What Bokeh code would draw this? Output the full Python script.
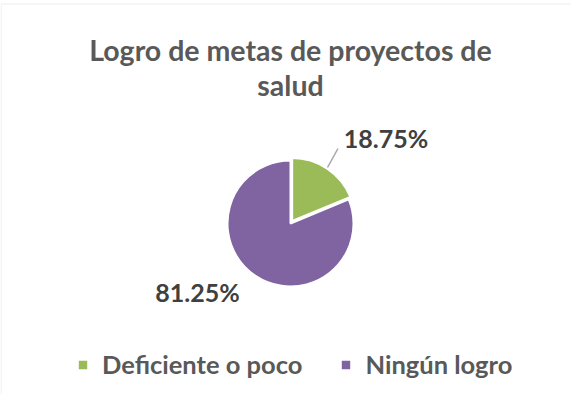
import math
from bokeh.plotting import figure
from bokeh.models import ColumnDataSource, Label, BoxAnnotation, Legend, LegendItem, Range1d
from bokeh.embed import file_html
from bokeh.resources import INLINE

# ---- data ----
categories = ["Deficiente o poco", "Ningún logro"]
values = [18.75, 81.25]
colors = ["#9BBB59", "#8064A2"]
title_lines = ["Logro de metas de proyectos de", "salud"]

# ---- layout (canvas pixels; data units == pixels) ----
W, H = 571, 394
FONT = "Lato"
TXT = "#595959"

def sx(x):  # page x -> data x
    return x - 8

def sy(y):  # page y -> data y
    return (H + 8) - y

p = figure(width=W, height=H, output_backend="svg", toolbar_location=None,
           x_range=Range1d(0, W), y_range=Range1d(0, H), min_border=0,
           x_axis_location=None, y_axis_location=None, outline_line_color=None)
p.grid.visible = False

# chart border
p.add_layout(BoxAnnotation(left=0.75, right=W + 20, bottom=-20, top=sy(11.5),
                           fill_alpha=0, line_color="#d9d9d9", line_width=1.5))

# pie
cx, cy, R = sx(298), sy(231), 63
total = sum(values)
explode = [3, 0]
a0 = math.pi / 2
starts, ends, xs, ys = [], [], [], []
for v, ex in zip(values, explode):
    a = 2 * math.pi * v / total
    s, e = a0, a0 - a
    mid = (s + e) / 2
    starts.append(s); ends.append(e)
    xs.append(cx + ex * math.cos(mid)); ys.append(cy + ex * math.sin(mid))
    a0 = e

src = ColumnDataSource(dict(x=xs, y=ys, start=starts, end=ends, color=colors, label=categories))
r = p.wedge(x="x", y="y", radius=R, radius_units="screen", start_angle="start", end_angle="end",
            direction="clock", fill_color="color", line_color="white", line_width=2, source=src)

# data labels
label_pos = [(393.5, 145), (205, 299)]
for v, (lx, ly) in zip(values, label_pos):
    p.add_layout(Label(x=sx(lx), y=sy(ly), text=f"{v:.2f}%", text_align="center",
                       text_baseline="alphabetic", text_font=FONT, text_font_style="bold",
                       text_font_size="25px", text_color="#404040"))
# leader line
p.line([sx(335), sx(345.5)], [sy(175), sy(156)], line_color="#a6a6a6", line_width=1.5)

# title
for t, ty in zip(title_lines, [57, 92]):
    p.add_layout(Label(x=sx(298), y=sy(ty), text=t, text_align="center", text_baseline="alphabetic",
                       text_font=FONT, text_font_style="bold", text_font_size="28.5px", text_color=TXT))

# legend
legend = Legend(items=[LegendItem(label=categories[i], renderers=[r], index=i) for i in range(len(categories))],
                orientation="horizontal", location=(76, 15), padding=0, margin=0,
                border_line_color=None, background_fill_alpha=0,
                glyph_width=13, glyph_height=13, label_standoff=13, spacing=37,
                label_text_font=FONT, label_text_font_style="bold", label_text_font_size="25.5px",
                label_text_color=TXT)
p.add_layout(legend)

open("out.html", "w").write(file_html(p, INLINE))
